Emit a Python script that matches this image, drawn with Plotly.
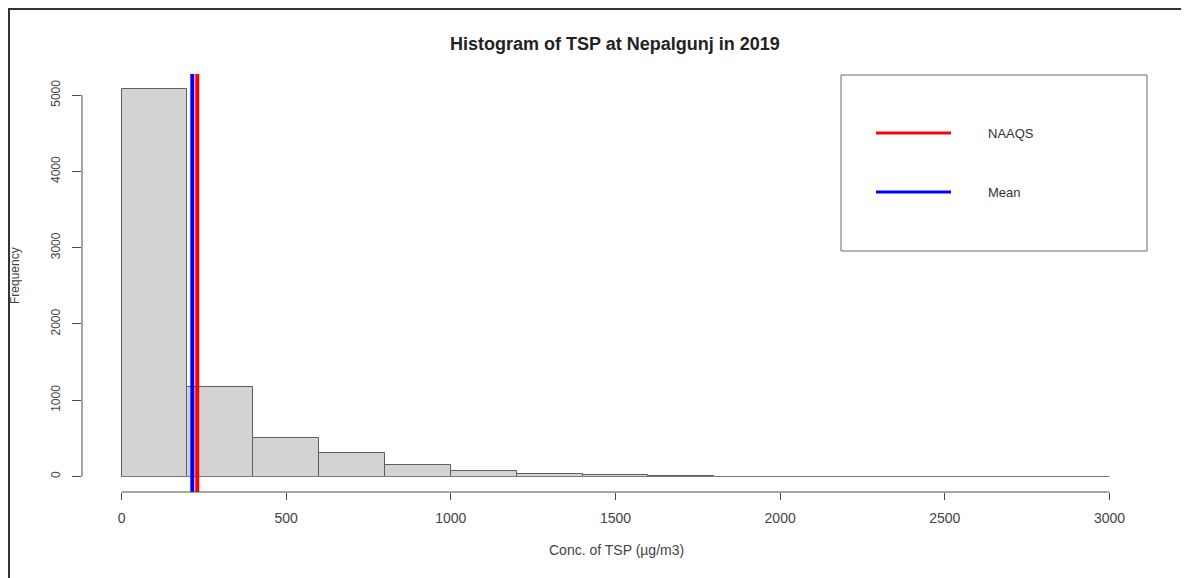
import plotly.graph_objects as go

# ---- data ----
BREAKS = [0, 200, 400, 600, 800, 1000, 1200, 1400, 1600, 1800, 2000, 2200, 2400, 2600, 2800, 3000]
COUNTS = [5075, 1169, 504, 307, 152, 75, 38, 20, 10, 0, 0, 0, 0, 0, 0]
NAAQS = 230
MEAN = 215
X_TICKS = [0, 500, 1000, 1500, 2000, 2500, 3000]
Y_TICKS = [0, 1000, 2000, 3000, 4000, 5000]
TITLE = "Histogram of TSP at Nepalgunj in 2019"
X_LABEL = "Conc. of TSP (µg/m3)"
Y_LABEL = "Frequency"
LEGEND_ITEMS = [("NAAQS", "red"), ("Mean", "blue")]

OFF = 8  # page body margin
W, H = 1181, 570
ML, MR, MT, MB = 74, 40, 66, 86
PW, PH = W - ML - MR, H - MT - MB


def px(p):
    """page x pixel -> paper coordinate"""
    return (p - OFF - ML) / PW


def py(p):
    """page y pixel -> paper coordinate"""
    return (H - MB - (p - OFF)) / PH


centers = [(a + b) / 2 for a, b in zip(BREAKS[:-1], BREAKS[1:])]
widths = [b - a for a, b in zip(BREAKS[:-1], BREAKS[1:])]

xr = BREAKS[-1] - BREAKS[0]
ymax = max(COUNTS)
x_range = [BREAKS[0] - 0.04 * xr, BREAKS[-1] + 0.04 * xr]
y_range = [-0.04 * ymax, 1.04 * ymax]

fig = go.Figure()
fig.add_trace(go.Bar(
    x=centers, y=COUNTS, width=widths,
    marker=dict(color="#d3d3d3", line=dict(color="#5e5e5e", width=1)),
    showlegend=False, hoverinfo="x+y",
))
# baseline of (zero-height) bins
fig.add_trace(go.Scatter(
    x=[BREAKS[0], BREAKS[-1]], y=[0, 0], mode="lines",
    line=dict(color="#7a7a7a", width=1), showlegend=False, hoverinfo="skip",
))

font = "Liberation Sans, Arial, sans-serif"
shapes = []
# reference lines
shapes.append(dict(type="line", xref="x", yref="paper", x0=NAAQS, x1=NAAQS, y0=0, y1=1,
                   line=dict(color="red", width=4)))
shapes.append(dict(type="line", xref="x", yref="paper", x0=MEAN, x1=MEAN, y0=0, y1=1,
                   line=dict(color="blue", width=4)))
# axis lines spanning the tick range (R style)
shapes.append(dict(type="line", xref="x", yref="paper", x0=X_TICKS[0], x1=X_TICKS[-1], y0=0, y1=0,
                   line=dict(color="#4a4a4a", width=1)))
shapes.append(dict(type="line", xref="paper", yref="y", x0=0, x1=0, y0=Y_TICKS[0], y1=Y_TICKS[-1],
                   line=dict(color="#4a4a4a", width=1)))
# outer frame (top & left)
shapes.append(dict(type="line", xref="paper", yref="paper", x0=px(8), x1=px(1189), y0=py(9), y1=py(9),
                   line=dict(color="#333333", width=2)))
shapes.append(dict(type="line", xref="paper", yref="paper", x0=px(9), x1=px(9), y0=py(9), y1=py(578),
                   line=dict(color="#333333", width=2)))
# legend box
shapes.append(dict(type="rect", xref="paper", yref="paper", x0=px(841), x1=px(1147), y0=py(251), y1=py(75),
                   line=dict(color="#6a6a6a", width=1), fillcolor="white", layer="above"))

annotations = []
leg_y = [133, 192]
for (name, col), yy in zip(LEGEND_ITEMS, leg_y):
    shapes.append(dict(type="line", xref="paper", yref="paper", x0=px(876), x1=px(951), y0=py(yy), y1=py(yy),
                       line=dict(color=col, width=3), layer="above"))
    annotations.append(dict(xref="paper", yref="paper", x=px(986), y=py(yy), text=name, showarrow=False,
                            xanchor="left", yanchor="middle", font=dict(family=font, size=13, color="#333")))

annotations.append(dict(xref="paper", yref="paper", x=px(615), y=py(44), text="<b>" + TITLE + "</b>",
                        showarrow=False, xanchor="center", yanchor="middle",
                        font=dict(family=font, size=18, color="#222")))
annotations.append(dict(xref="paper", yref="paper", x=px(616), y=py(550), text=X_LABEL,
                        showarrow=False, xanchor="center", yanchor="middle",
                        font=dict(family=font, size=14, color="#444")))
annotations.append(dict(xref="paper", yref="paper", x=px(15), y=py(276), text=Y_LABEL, textangle=-90,
                        showarrow=False, xanchor="center", yanchor="middle",
                        font=dict(family=font, size=12, color="#444")))

fig.update_layout(
    width=W, height=H,
    margin=dict(l=ML, r=MR, t=MT, b=MB, pad=0),
    paper_bgcolor="white", plot_bgcolor="white",
    bargap=0, showlegend=False,
    shapes=shapes, annotations=annotations,
    font=dict(family=font, color="#444"),
)
fig.update_xaxes(range=x_range, tickvals=X_TICKS, ticks="outside", ticklen=7, tickcolor="#4a4a4a",
                 ticklabelstandoff=6,
                 showline=False, showgrid=False, zeroline=False,
                 tickfont=dict(family=font, size=14, color="#444"))
fig.update_yaxes(range=y_range, tickvals=Y_TICKS, ticks="outside", ticklen=9, tickcolor="#4a4a4a",
                 ticklabelstandoff=7,
                 tickangle=-90, showline=False, showgrid=False, zeroline=False,
                 tickfont=dict(family=font, size=12, color="#444"))

fig.write_html("out.html")
